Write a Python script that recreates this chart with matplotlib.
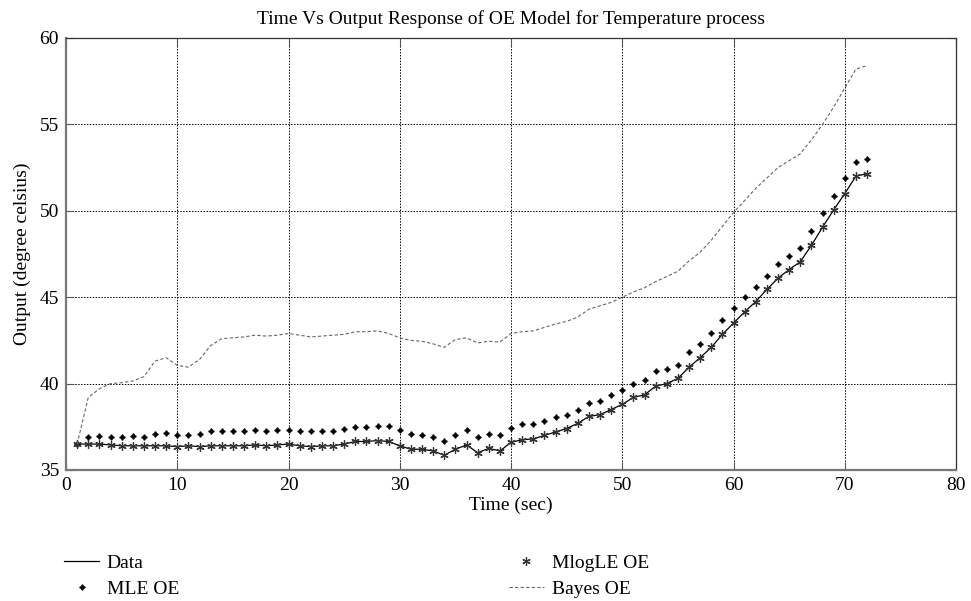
import matplotlib.pyplot as plt
import numpy as np

plt.rcParams['font.family'] = ['Liberation Serif', 'DejaVu Serif']

# Data
t = np.arange(1, 73)
data = [36.5, 36.5, 36.5, 36.45, 36.4, 36.4, 36.4, 36.4, 36.4, 36.35,
        36.4, 36.35, 36.4, 36.4, 36.4, 36.4, 36.45, 36.4, 36.45, 36.5,
        36.4, 36.35, 36.4, 36.4, 36.5, 36.65, 36.65, 36.7, 36.65, 36.4,
        36.2, 36.2, 36.1, 35.85, 36.2, 36.45, 36.0, 36.25, 36.1, 36.6,
        36.75, 36.8, 37.0, 37.2, 37.4, 37.7, 38.1, 38.2, 38.5, 38.8,
        39.2, 39.35, 39.85, 40.0, 40.3, 40.95, 41.5, 42.1, 42.85, 43.5,
        44.15, 44.75, 45.45, 46.1, 46.6, 47.05, 48.0, 49.05, 50.05, 51.0,
        52.0, 52.15]
mle = [36.5, 36.9, 36.95, 36.9, 36.9, 36.95, 36.9, 37.08, 37.12, 37.0,
       37.0, 37.08, 37.25, 37.25, 37.28, 37.28, 37.3, 37.28, 37.3, 37.3,
       37.25, 37.25, 37.25, 37.25, 37.35, 37.5, 37.5, 37.55, 37.55, 37.3,
       37.1, 37.0, 36.9, 36.7, 37.05, 37.3, 36.9, 37.1, 37.0, 37.43,
       37.66, 37.68, 37.85, 38.05, 38.2, 38.5, 38.9, 39.0, 39.33, 39.6,
       40.0, 40.2, 40.7, 40.85, 41.1, 41.8, 42.3, 42.9, 43.7, 44.36,
       45.0, 45.57, 46.24, 46.9, 47.4, 47.87, 48.83, 49.89, 50.86, 51.88,
       52.84, 53.0]
bayes = [36.5, 39.2, 39.7, 40.0, 40.05, 40.15, 40.4, 41.3, 41.5, 41.05,
         40.95, 41.4, 42.2, 42.6, 42.65, 42.7, 42.8, 42.75, 42.8, 42.9,
         42.8, 42.7, 42.75, 42.8, 42.85, 43.0, 43.0, 43.05, 42.9, 42.65,
         42.5, 42.45, 42.3, 42.1, 42.55, 42.65, 42.35, 42.45, 42.4, 42.9,
         43.0, 43.05, 43.25, 43.45, 43.6, 43.85, 44.3, 44.5, 44.7, 45.0,
         45.3, 45.55, 45.9, 46.2, 46.5, 47.1, 47.6, 48.3, 49.1, 49.9,
         50.6, 51.3, 51.9, 52.5, 52.9, 53.3, 54.1, 55.0, 56.0, 57.1,
         58.2, 58.4]

fig = plt.figure(figsize=(9.71, 6.01), dpi=100)
ax = fig.add_axes([0.068, 0.218, 0.9166, 0.7188])

l_data, = ax.plot(t, data, color='black', lw=0.9, label='Data')
l_mle, = ax.plot(t, mle, ls='none', marker=(4, 1, 0), ms=4, color='black',
                 label='MLE OE')
l_mlog, = ax.plot(t, data, ls='none', marker=(6, 2, 0), ms=6, mew=0.9,
                  color='#333333', label='MlogLE OE')
l_bayes, = ax.plot(t, bayes, color='#666666', lw=0.8, ls=(0, (3, 2)),
                   label='Bayes OE')

ax.set_xlim(0, 80)
ax.set_ylim(35, 60)
ax.set_xticks(np.arange(0, 81, 10))
ax.set_yticks(np.arange(35, 61, 5))
ax.grid(True, color='black', ls=(0, (1.5, 1.5)), lw=0.7)
ax.tick_params(direction='in', length=6, width=0.8, color='#555555',
               labelsize=14, top=True, right=True, pad=5)
for side in ['left', 'bottom']:
    ax.spines[side].set_color('#777777')
    ax.spines[side].set_linewidth(1.6)
for side in ['top', 'right']:
    ax.spines[side].set_color('#333333')
    ax.spines[side].set_linewidth(0.9)

ax.set_title('Time Vs Output Response of OE Model for Temperature process',
             fontsize=14, pad=10)
ax.set_xlabel('Time (sec)', fontsize=14, labelpad=2)
ax.set_ylabel('Output (degree celsius)', fontsize=14, labelpad=6)

# two legend columns below the axes
fig.legend(handles=[l_data, l_mle], loc='upper left',
           bbox_to_anchor=(0.066, 0.078), bbox_transform=fig.transFigure,
           frameon=False, fontsize=14, handlelength=1.8,
           handletextpad=0.4, labelspacing=0.45, borderpad=0,
           borderaxespad=0)
fig.legend(handles=[l_mlog, l_bayes], loc='upper left',
           bbox_to_anchor=(0.524, 0.078), bbox_transform=fig.transFigure,
           frameon=False, fontsize=14, handlelength=1.8,
           handletextpad=0.4, labelspacing=0.45, borderpad=0,
           borderaxespad=0)

plt.savefig('out.png', dpi=100)
